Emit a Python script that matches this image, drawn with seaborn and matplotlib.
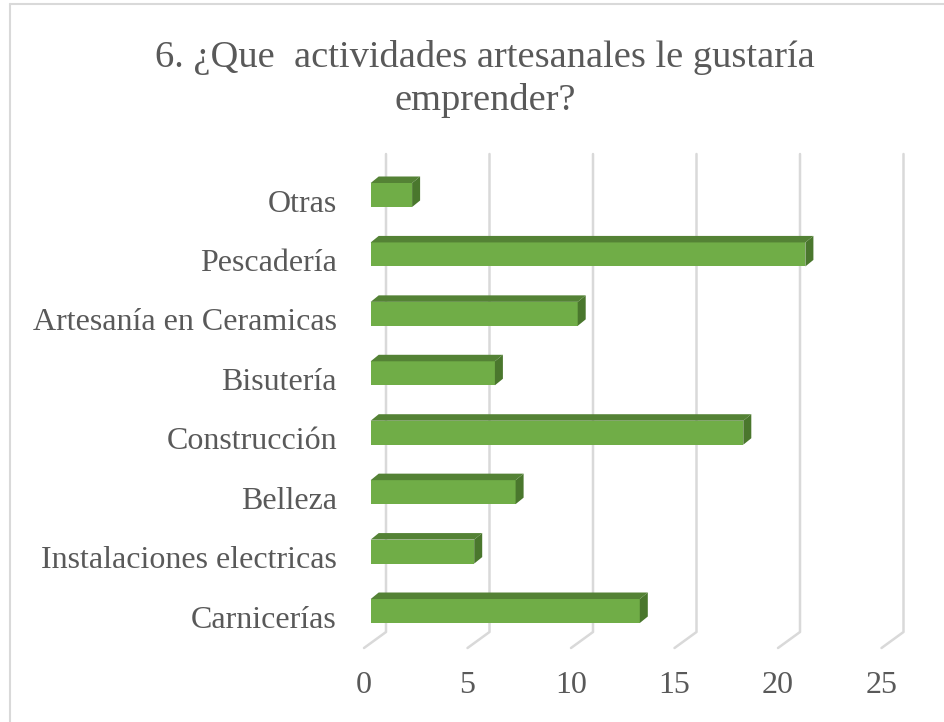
import matplotlib
matplotlib.use("Agg")
import matplotlib.pyplot as plt
import matplotlib.transforms as mtransforms
import seaborn as sns
import pandas as pd
from matplotlib.patches import Polygon
from matplotlib.lines import Line2D

categories = ["Otras", "Pescadería", "Artesanía en Ceramicas", "Bisutería",
              "Construcción", "Belleza", "Instalaciones electricas", "Carnicerías"]
values = [2, 21, 10, 6, 18, 7, 5, 13]
xticks = [0, 5, 10, 15, 20, 25]
title = "6. ¿Que  actividades artesanales le gustaría\nemprender?"

sns.set_style("white")
plt.rcParams['font.family'] = ['Liberation Serif', 'DejaVu Serif']

text_color = "#595959"
grid_color = "#D9D9D9"
front_color = "#70AD47"
top_color = "#548235"
side_color = "#4A772D"

W, H = 945, 722
fig = plt.figure(figsize=(W / 100, H / 100), dpi=100)

# axes in pixel terms: bar plane
x0_px, x25_px = 370.7, 888.2
y_top_px, y_bot_px = 154, 648
cat0_px, cat_step = 195, 59.43
ax = fig.add_axes([x0_px / W, (H - y_bot_px) / H, (x25_px - x0_px) / W, (y_bot_px - y_top_px) / H])

df = pd.DataFrame({"cat": categories, "val": values})
sns.barplot(data=df, x="val", y="cat", orient="h", color=front_color, width=0.404,
            saturation=1, ax=ax, zorder=3)

px_x = 25 / (x25_px - x0_px)   # data units per pixel
px_y = 1 / cat_step
ax.set_xlim(0, 25)
ax.set_ylim((y_bot_px - cat0_px) * px_y, (y_top_px - cat0_px) * px_y)

# 3d gridlines: back wall + floor slant
back_dx, back_floor = 15.3 * px_x, (632 - cat0_px) * px_y
front_dx, front_floor = -6.7 * px_x, (648 - cat0_px) * px_y
for t in xticks:
    ax.add_line(Line2D([t + back_dx, t + back_dx, t + front_dx],
                       [(y_top_px - cat0_px) * px_y, back_floor, front_floor],
                       color=grid_color, lw=1.8, clip_on=False, zorder=1))
    ax.text(t + front_dx, (686 - cat0_px) * px_y, str(t), ha="center", va="center",
            fontsize=23, color=text_color)

# depth faces of bars
ddx, ddy = 8 * px_x, -6.5 * px_y
for p in ax.patches[:len(values)]:
    p.set_edgecolor("none")
    x, y, w, h = p.get_x(), p.get_y(), p.get_width(), p.get_height()
    ytop = min(y, y + h)
    ybot = max(y, y + h)
    ax.add_patch(Polygon([(x, ytop), (x + w, ytop), (x + w + ddx, ytop + ddy), (x + ddx, ytop + ddy)],
                         closed=True, facecolor=top_color, edgecolor="none", zorder=3, clip_on=False))
    ax.add_patch(Polygon([(x + w, ytop), (x + w, ybot), (x + w + ddx, ybot + ddy), (x + w + ddx, ytop + ddy)],
                         closed=True, facecolor=side_color, edgecolor="none", zorder=3, clip_on=False))

ax.set_xticks([])
ax.set_yticks(range(len(categories)))
ax.set_yticklabels(categories, fontsize=23, color=text_color)
ax.tick_params(axis="y", length=0, pad=24.3)
for lab in ax.get_yticklabels():
    lab.set_verticalalignment("center")
ax.set_xlabel("")
ax.set_ylabel("")
sns.despine(ax=ax, left=True, bottom=True)
ax.patch.set_alpha(0)

# shift category labels slightly down
off = mtransforms.ScaledTranslation(0, -9 / 100, fig.dpi_scale_trans)
for lab in ax.get_yticklabels():
    lab.set_transform(lab.get_transform() + off)

fig.text(485 / W, 1 - 79 / H, title, ha="center", va="center", fontsize=27.7,
         color=text_color, linespacing=1.33)

# chart border
fig.add_artist(Line2D([10 / W, 10 / W], [0, 1 - 4 / H], color=grid_color, lw=1.5))
fig.add_artist(Line2D([10 / W, 1], [1 - 4 / H, 1 - 4 / H], color=grid_color, lw=1.5))

fig.savefig("out.png", dpi=100)
